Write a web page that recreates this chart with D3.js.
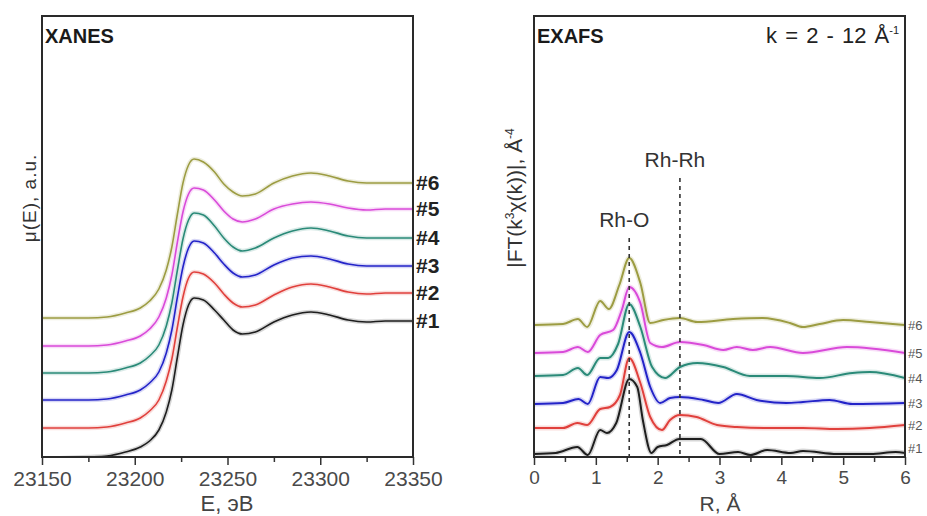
<!DOCTYPE html>
<html>
<head>
<meta charset="utf-8">
<script src="https://cdn.jsdelivr.net/npm/d3@7"></script>
<style>
  body { margin: 0; background: #fff; }
  svg { display: block; font-family: Arial, "Liberation Sans", sans-serif; }
</style>
</head>
<body>
<svg id="chart" width="927" height="516"></svg>
<script>
// XANES: energy grid (eV) and mu(E) of each sample, a.u. (stacked)
var xanesE = [23150, 23175, 23185, 23195, 23203, 23208, 23213, 23217, 23220, 23223, 23226, 23229, 23232,
    23237, 23243, 23248, 23253, 23258, 23265, 23275, 23285, 23295, 23305, 23315, 23325, 23335, 23350];
var xanes1 = [-0.02, 0.00, 0.01, 0.05, 0.10, 0.16, 0.27, 0.45, 0.67, 1.00, 1.32, 1.52, 1.59, 1.57, 1.47, 1.37, 1.27, 1.23, 1.25, 1.35, 1.42, 1.45, 1.42, 1.37, 1.35, 1.36, 1.36];
var xanes2 = [0.29, 0.29, 0.30, 0.34, 0.39, 0.46, 0.57, 0.76, 0.98, 1.30, 1.60, 1.79, 1.85, 1.83, 1.74, 1.63, 1.54, 1.50, 1.52, 1.62, 1.70, 1.73, 1.70, 1.65, 1.63, 1.64, 1.64];
var xanes3 = [0.57, 0.57, 0.58, 0.62, 0.67, 0.74, 0.85, 1.04, 1.27, 1.60, 1.90, 2.09, 2.16, 2.14, 2.04, 1.93, 1.84, 1.80, 1.82, 1.92, 1.99, 2.01, 1.98, 1.93, 1.91, 1.91, 1.91];
var xanes4 = [0.84, 0.84, 0.85, 0.89, 0.94, 1.01, 1.12, 1.31, 1.54, 1.87, 2.18, 2.37, 2.44, 2.42, 2.31, 2.19, 2.10, 2.06, 2.09, 2.19, 2.26, 2.29, 2.26, 2.21, 2.19, 2.19, 2.19];
var xanes5 = [1.11, 1.11, 1.12, 1.16, 1.21, 1.28, 1.40, 1.59, 1.82, 2.15, 2.45, 2.63, 2.69, 2.67, 2.57, 2.46, 2.38, 2.35, 2.38, 2.48, 2.53, 2.55, 2.53, 2.49, 2.47, 2.48, 2.48];
var xanes6 = [1.39, 1.39, 1.40, 1.44, 1.49, 1.56, 1.68, 1.87, 2.10, 2.43, 2.74, 2.92, 2.98, 2.95, 2.85, 2.73, 2.65, 2.61, 2.63, 2.74, 2.81, 2.84, 2.81, 2.76, 2.74, 2.74, 2.74];

// EXAFS: R (A) and |FT| of each sample (stacked)
var exafsR1 = [0, 0.35, 0.7, 0.87, 1.07, 1.18, 1.33, 1.54, 1.67, 1.76, 1.9, 2.0, 2.15, 2.35, 2.7, 3.0, 3.3, 3.5, 3.77, 4.15, 4.35, 4.9, 5.45, 5.85, 6.0];
var exafsV1 = [0.3, 0.4, 1.0, 0.2, 2.7, 2.4, 3.4, 7.8, 7.0, 3.7, 0.4, 1.0, 1.2, 1.8, 1.8, 0.3, 0.5, 0.2, 0.7, 0.4, 0.6, 0.3, 0.3, 0.5, 0.4];
var exafsR2 = [0, 0.47, 0.7, 0.86, 1.07, 1.23, 1.39, 1.54, 1.72, 1.88, 2.07, 2.2, 2.36, 2.63, 2.96, 3.28, 3.82, 4.35, 4.9, 5.43, 6.0];
var exafsV2 = [2.9, 2.9, 3.4, 3.2, 4.8, 5.0, 6.2, 9.9, 7.4, 4.0, 2.7, 3.7, 4.2, 4.0, 3.2, 3.0, 2.9, 2.9, 2.8, 2.9, 3.2];
var exafsR3 = [0, 0.47, 0.72, 0.87, 1.07, 1.2, 1.34, 1.54, 1.72, 1.88, 2.04, 2.2, 2.36, 2.74, 2.98, 3.28, 3.6, 4.08, 4.35, 4.78, 5.15, 6.0];
var exafsV3 = [5.3, 5.4, 5.8, 5.3, 8.0, 7.9, 8.7, 12.5, 10.4, 7.0, 5.4, 5.9, 6.0, 5.7, 5.4, 6.3, 5.7, 5.4, 5.5, 5.7, 5.3, 5.4];
var exafsR4 = [0, 0.47, 0.71, 0.86, 1.07, 1.2, 1.36, 1.54, 1.72, 1.91, 2.12, 2.36, 2.64, 3.06, 3.49, 4.08, 4.62, 5.15, 5.43, 6.0];
var exafsV4 = [8.1, 8.2, 8.9, 8.2, 9.9, 9.9, 11.3, 15.3, 13.0, 9.0, 7.9, 9.0, 9.4, 9.0, 8.1, 8.1, 7.9, 8.4, 8.5, 7.9];
var exafsR5 = [0, 0.47, 0.71, 0.87, 1.07, 1.28, 1.42, 1.54, 1.72, 1.88, 2.07, 2.36, 2.74, 3.06, 3.28, 3.54, 3.82, 4.35, 5.06, 6.0];
var exafsV5 = [10.4, 10.5, 11.0, 10.5, 12.2, 12.7, 14.7, 17.0, 15.4, 11.4, 11.0, 11.5, 11.2, 10.7, 11.0, 10.7, 11.0, 10.4, 11.0, 10.4];
var exafsR6 = [0, 0.47, 0.71, 0.86, 1.07, 1.21, 1.38, 1.54, 1.72, 1.88, 2.09, 2.36, 2.64, 3.22, 3.7, 4.14, 4.35, 4.62, 5.0, 5.43, 6.0];
var exafsV6 = [13.2, 13.3, 13.8, 13.0, 15.6, 14.8, 17.2, 19.9, 17.4, 13.4, 13.7, 13.9, 13.5, 13.8, 13.9, 13.4, 13.0, 13.3, 13.7, 13.5, 13.2];

var sampleNames = ["#1", "#2", "#3", "#4", "#5", "#6"];
var sampleColors = ["#1e1e1e", "#e0403c", "#2323c8", "#2a8a78", "#d94ad9", "#9c9c42"];

var xanesTicks = [23150, 23200, 23250, 23300, 23350];
var exafsTicks = [0, 1, 2, 3, 4, 5, 6];

// dashed markers in the EXAFS panel
var shells = [{"name": "Rh-O", "r": 1.54, "top": 21.9}, {"name": "Rh-Rh", "r": 2.36, "top": 27.9}];

var svg = d3.select("#chart");

var xanesSeries = [xanes1, xanes2, xanes3, xanes4, xanes5, xanes6].map(function(vals, i) {
    return {"name": sampleNames[i], "color": sampleColors[i],
        "points": vals.map(function(v, j) { return [xanesE[j], v]; })};
});
var exafsSeries = [[exafsR1, exafsV1], [exafsR2, exafsV2], [exafsR3, exafsV3],
    [exafsR4, exafsV4], [exafsR5, exafsV5], [exafsR6, exafsV6]].map(function(p, i) {
    return {"name": sampleNames[i], "color": sampleColors[i],
        "points": p[0].map(function(r, j) { return [r, p[1][j]]; })};
});

function drawPanel(opt) {
    var x = opt.x, y = opt.y;
    var x0 = x.range()[0], x1 = x.range()[1], y0 = y.range()[1], y1 = y.range()[0];
    var g = svg.append("g");

    g.append("clipPath").attr("id", opt.id + "_clip")
        .append("rect")
        .attr("x", x0).attr("y", y0)
        .attr("width", x1 - x0).attr("height", y1 - y0);

    var line = d3.line()
        .x(function(d) { return x(d[0]); })
        .y(function(d) { return y(d[1]); })
        .curve(d3.curveMonotoneX);

    var lines = g.append("g").attr("clip-path", "url(#" + opt.id + "_clip)");
    // soft halo like the scanned original
    lines.selectAll(".halo")
        .data(opt.series)
        .enter()
        .append("path")
        .attr("d", function(d) { return line(d.points); })
        .attr("fill", "none")
        .attr("stroke", function(d) { return d.color; })
        .attr("stroke-opacity", 0.18)
        .attr("stroke-width", opt.lineWidth + 3);
    lines.selectAll(".curve")
        .data(opt.series)
        .enter()
        .append("path")
        .attr("d", function(d) { return line(d.points); })
        .attr("fill", "none")
        .attr("stroke", function(d) { return d.color; })
        .attr("stroke-width", opt.lineWidth)
        .attr("stroke-linejoin", "round");

    // minor and major ticks
    g.append("g")
        .attr("transform", "translate(0," + y1 + ")")
        .call(d3.axisBottom(x).tickValues(opt.minorTicks).tickSize(5).tickFormat(""))
        .call(function(a) { a.select(".domain").remove(); a.selectAll("line").attr("stroke", "#333").attr("stroke-width", 1.5); });
    var ax = g.append("g")
        .attr("transform", "translate(0," + y1 + ")")
        .call(d3.axisBottom(x).tickValues(opt.ticks).tickSize(8).tickPadding(6).tickFormat(d3.format("d")));
    ax.select(".domain").remove();
    ax.selectAll("line").attr("stroke", "#333").attr("stroke-width", 1.5);
    ax.selectAll("text")
        .attr("font-size", opt.tickFont)
        .attr("fill", "#4a4a4a");

    g.append("rect")
        .attr("x", x0).attr("y", y0)
        .attr("width", x1 - x0).attr("height", y1 - y0)
        .attr("fill", "none")
        .attr("stroke", "#2a2a2a")
        .attr("stroke-width", 2);

    g.append("text")
        .attr("x", x0 + 3).attr("y", y0 + 27)
        .attr("font-size", 20).attr("font-weight", "bold")
        .attr("fill", "#1a1a1a")
        .text(opt.title);
    return g;
}

// ---- XANES panel
var xL = d3.scaleLinear().domain([23150, 23350]).range([42, 413]);
var yL = d3.scaleLinear().domain([0, 4.41]).range([457, 16]);
var gL = drawPanel({"id": "xanes", "x": xL, "y": yL, "series": xanesSeries, "lineWidth": 1.6,
    "ticks": xanesTicks, "minorTicks": d3.range(23175, 23350, 50), "tickFont": 21, "title": "XANES"});

gL.selectAll(".lab")
    .data(xanesSeries)
    .enter()
    .append("text")
    .attr("x", xL(23350) + 3)
    .attr("y", function(d) { return yL(d.points[d.points.length - 1][1]) - 1; })
    .attr("dy", "0.36em")
    .attr("font-size", 21).attr("font-weight", "bold")
    .attr("fill", "#222")
    .text(function(d) { return d.name; });

gL.append("text")
    .attr("x", 227).attr("y", 511)
    .attr("text-anchor", "middle")
    .attr("font-size", 22).attr("fill", "#444")
    .text("E, эВ");

gL.append("text")
    .attr("transform", "translate(36,198) rotate(-90)")
    .attr("text-anchor", "middle")
    .attr("font-size", 19).attr("fill", "#333")
    .attr("letter-spacing", 1)
    .text("μ(E), a.u.");

// ---- EXAFS panel
var xR = d3.scaleLinear().domain([0, 6]).range([534, 905]);
var yR = d3.scaleLinear().domain([0, 44.1]).range([457, 16]);
var gR = drawPanel({"id": "exafs", "x": xR, "y": yR, "series": exafsSeries, "lineWidth": 2,
    "ticks": exafsTicks, "minorTicks": d3.range(0.5, 6, 1), "tickFont": 19, "title": "EXAFS"});

gR.selectAll(".shell")
    .data(shells)
    .enter()
    .append("line")
    .attr("x1", function(d) { return xR(d.r); })
    .attr("x2", function(d) { return xR(d.r); })
    .attr("y1", function(d) { return yR(d.top); })
    .attr("y2", yR(0))
    .attr("stroke", "#333")
    .attr("stroke-width", 1.6)
    .attr("stroke-dasharray", "4,4");

gR.selectAll(".shellLab")
    .data(shells)
    .enter()
    .append("text")
    .attr("x", function(d) { return xR(d.r) - 5; })
    .attr("y", function(d) { return yR(d.top) - 11; })
    .attr("text-anchor", "middle")
    .attr("font-size", 21).attr("fill", "#333")
    .text(function(d) { return d.name; });

gR.selectAll(".lab")
    .data(exafsSeries)
    .enter()
    .append("text")
    .attr("x", xR(6) + 3)
    .attr("y", function(d) { return Math.min(yR(d.points[d.points.length - 1][1]), 448); })
    .attr("dy", "0.36em")
    .attr("font-size", 13)
    .attr("fill", "#555")
    .text(function(d) { return d.name; });

var kLab = gR.append("text")
    .attr("x", 899).attr("y", 43)
    .attr("text-anchor", "end")
    .attr("font-size", 22).attr("fill", "#222")
    .attr("word-spacing", 2);
kLab.append("tspan").text("k = 2 - 12 Å");
kLab.append("tspan").attr("dy", -9).attr("font-size", 11).text("-1");

gR.append("text")
    .attr("x", 720).attr("y", 511)
    .attr("text-anchor", "middle")
    .attr("font-size", 21).attr("fill", "#444")
    .text("R, Å");

var fLab = gR.append("text")
    .attr("transform", "translate(522,198) rotate(-90)")
    .attr("text-anchor", "middle")
    .attr("font-size", 21).attr("fill", "#333");
fLab.append("tspan").text("|FT(k");
fLab.append("tspan").attr("dy", -8).attr("font-size", 12).text("3");
fLab.append("tspan").attr("dy", 8).text("χ(k))|, Å");
fLab.append("tspan").attr("dy", -8).attr("font-size", 12).text("-4");
</script>
</body>
</html>
